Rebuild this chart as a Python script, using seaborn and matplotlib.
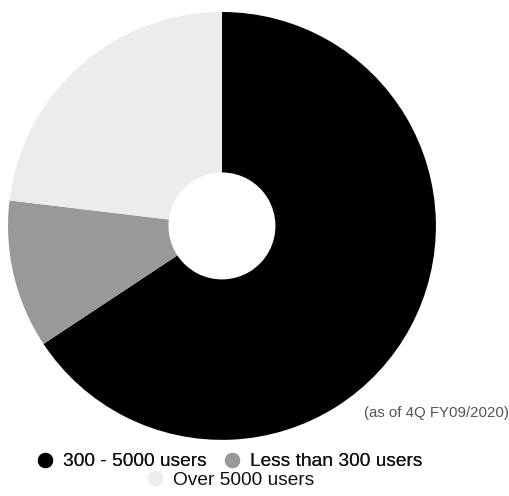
import matplotlib
matplotlib.use("Agg")
import matplotlib.pyplot as plt
from matplotlib.lines import Line2D
import seaborn as sns

sns.set_theme(style="white")
plt.rcParams["font.family"] = ["Liberation Sans", "DejaVu Sans"]

# Customer share by company size
categories = ["300 - 5000 users", "Less than 300 users", "Over 5000 users"]
shares = [65.7, 11.2, 23.1]
colors = ["#000000", "#999999", "#ececec"]
note = "(as of 4Q FY09/2020)"

fig = plt.figure(figsize=(5.10, 4.96), dpi=100)
ax = fig.add_axes([0.0157, 0.113, 0.839, 0.863])
ax.pie(shares, colors=colors, startangle=90, counterclock=False,
       radius=1.0, wedgeprops=dict(width=0.75, linewidth=0))
ax.set_xlim(-1, 1)
ax.set_ylim(-1, 1)
ax.set_aspect("equal")
ax.axis("off")

fig.text(0.998, 0.167, note, ha="right", va="center", fontsize=10.8, color="#555555")

def handle(c):
    return Line2D([], [], marker="o", linestyle="none", markersize=10,
                  markerfacecolor=c, markeredgecolor=c)

leg_kw = dict(frameon=False, fontsize=13.8, handletextpad=0.45,
              handlelength=1.0, columnspacing=0.8, labelcolor="#111111")
leg1 = fig.legend([handle(colors[0]), handle(colors[1])], categories[:2],
                  loc="center", bbox_to_anchor=(0.449, 0.069), ncol=2, **leg_kw)
fig.add_artist(leg1)
fig.legend([handle(colors[2])], categories[2:], loc="center",
           bbox_to_anchor=(0.451, 0.032), **leg_kw)

fig.savefig("out.png", dpi=100, facecolor="white")
